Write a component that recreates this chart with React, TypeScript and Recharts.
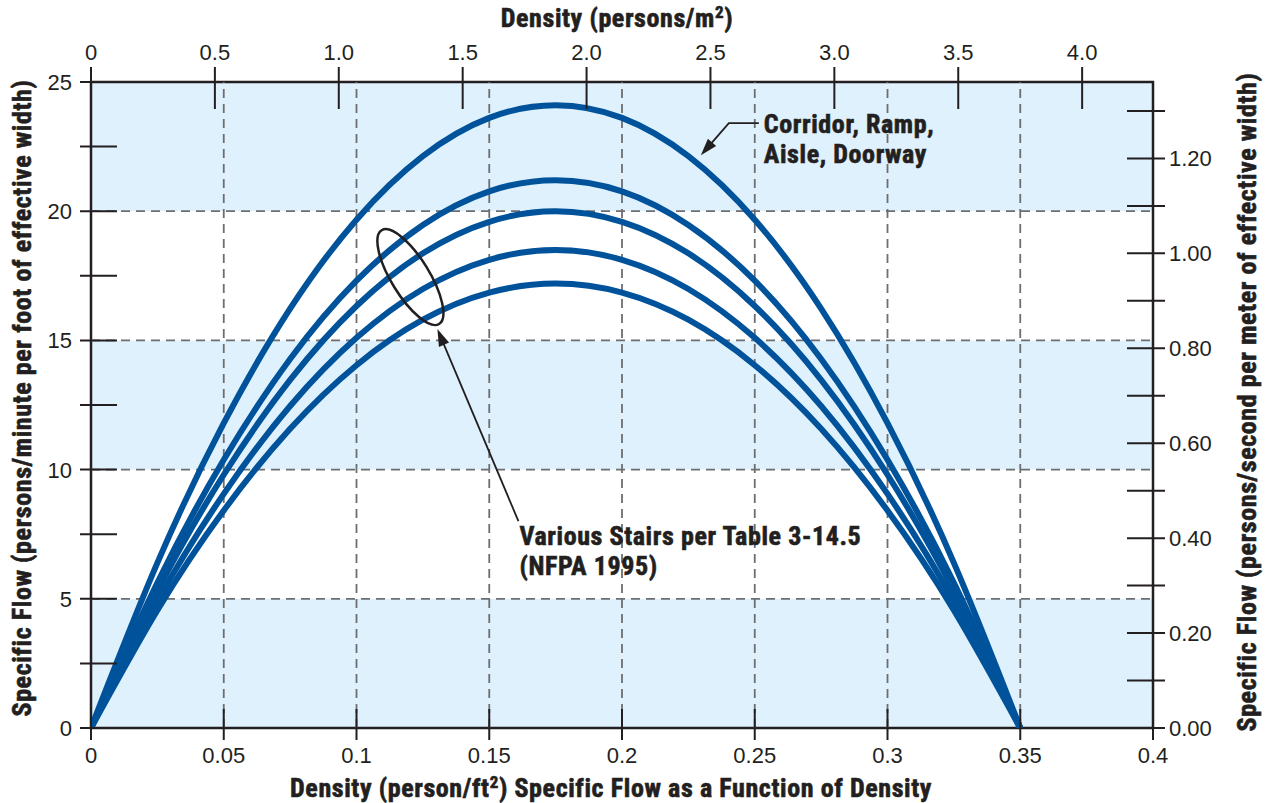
import React from 'react';
import { LineChart, Line, XAxis, YAxis, ReferenceArea, ReferenceLine, ReferenceDot } from 'recharts';

// Density in persons/ft^2
const densityFt2 = [0, 0.025, 0.05, 0.075, 0.1, 0.125, 0.15, 0.175, 0.2, 0.225, 0.25, 0.275, 0.3, 0.325, 0.35];
// Specific flow (persons/min/ft)
const corridorFlow = [0, 6.39, 11.8, 16.23, 19.67, 22.13, 23.61, 24.1, 23.61, 22.13, 19.67, 16.23, 11.8, 6.39, 0];
const stairs1Flow = [0, 5.62, 10.38, 14.28, 17.31, 19.47, 20.77, 21.2, 20.77, 19.47, 17.31, 14.28, 10.38, 5.62, 0];
const stairs2Flow = [0, 5.31, 9.8, 13.47, 16.33, 18.37, 19.59, 20.0, 19.59, 18.37, 16.33, 13.47, 9.8, 5.31, 0];
const stairs3Flow = [0, 4.91, 9.06, 12.46, 15.1, 16.99, 18.12, 18.5, 18.12, 16.99, 15.1, 12.46, 9.06, 4.91, 0];
const stairs4Flow = [0, 4.56, 8.42, 11.58, 14.04, 15.8, 16.85, 17.2, 16.85, 15.8, 14.04, 11.58, 8.42, 4.56, 0];

const bottomTicks = [0, 0.05, 0.1, 0.15, 0.2, 0.25, 0.3, 0.35, 0.4];
const bottomTickLabels = ['0', '0.05', '0.1', '0.15', '0.2', '0.25', '0.3', '0.35', '0.4'];
const topTicks = [0, 0.5, 1.0, 1.5, 2.0, 2.5, 3.0, 3.5, 4.0];
const topTickLabels = ['0', '0.5', '1.0', '1.5', '2.0', '2.5', '3.0', '3.5', '4.0'];
const leftTicks = [0, 2.5, 5, 7.5, 10, 12.5, 15, 17.5, 20, 22.5, 25];
const leftTickLabels = ['0', '', '5', '', '10', '', '15', '', '20', '', '25'];
const rightTicks = [0, 0.1, 0.2, 0.3, 0.4, 0.5, 0.6, 0.7, 0.8, 0.9, 1.0, 1.1, 1.2, 1.3];
const rightTickLabels = ['0.00', '', '0.20', '', '0.40', '', '0.60', '', '0.80', '', '1.00', '', '1.20', ''];
const gridX = [0.05, 0.1, 0.15, 0.2, 0.25, 0.3, 0.35];
const gridY = [5, 10, 15, 20];
const bands = [[0, 5], [10, 15], [20, 25]];

const data = densityFt2.map((d, i) => ({
  d,
  corridor: corridorFlow[i],
  s1: stairs1Flow[i],
  s2: stairs2Flow[i],
  s3: stairs3Flow[i],
  s4: stairs4Flow[i],
}));

const INK = '#231f20';
const BLUE = '#00539b';
const BAND = '#dff1fc';
const TICK_FONT = '"Liberation Sans", Arial, Helvetica, sans-serif';
const BOLD_FONT = '"Liberation Sans Narrow", "Roboto Condensed", "DejaVu Sans Condensed", "Liberation Sans", sans-serif';
const BOLD_SIZE = 26;
const BOLD_SPACING = 0.6;

const LeftTick = (p: any) => {
  const { x, y, index } = p;
  return (
    <g>
      <line x1={x - 11} x2={x + 26} y1={y} y2={y} stroke={INK} strokeWidth={2} />
      {leftTickLabels[index] ? (
        <text x={x - 19} y={y} dy="0.36em" textAnchor="end" fontSize={22} fontFamily={TICK_FONT} fill={INK}>
          {leftTickLabels[index]}
        </text>
      ) : null}
    </g>
  );
};

const RightTick = (p: any) => {
  const { x, y, index } = p;
  return (
    <g>
      <line x1={x - 26} x2={x + 12} y1={y} y2={y} stroke={INK} strokeWidth={2} />
      {rightTickLabels[index] ? (
        <text x={x + 16} y={y} dy="0.36em" textAnchor="start" fontSize={22} fontFamily={TICK_FONT} fill={INK}>
          {rightTickLabels[index]}
        </text>
      ) : null}
    </g>
  );
};

const BottomTick = (p: any) => {
  const { x, y, index } = p;
  return (
    <g>
      <line x1={x} x2={x} y1={y - 19} y2={y + 12} stroke={INK} strokeWidth={2} />
      <text x={x} y={y + 35} textAnchor="middle" fontSize={22} fontFamily={TICK_FONT} fill={INK}>
        {bottomTickLabels[index]}
      </text>
    </g>
  );
};

const TopTick = (p: any) => {
  const { x, y, index } = p;
  return (
    <g>
      <line x1={x} x2={x} y1={y - 15} y2={y + 27} stroke={INK} strokeWidth={2} />
      <text x={x} y={y - 22} textAnchor="middle" fontSize={22} fontFamily={TICK_FONT} fill={INK}>
        {topTickLabels[index]}
      </text>
    </g>
  );
};

const arrowHead = (tx: number, ty: number, fx: number, fy: number, len = 17, half = 5.5) => {
  const dx = tx - fx;
  const dy = ty - fy;
  const L = Math.sqrt(dx * dx + dy * dy);
  const ux = dx / L;
  const uy = dy / L;
  const bx = tx - ux * len;
  const by = ty - uy * len;
  return `${tx},${ty} ${bx - uy * half},${by + ux * half} ${bx + uy * half},${by - ux * half}`;
};

const boldText = {
  fontSize: BOLD_SIZE,
  fontWeight: 'bold' as const,
  fontFamily: BOLD_FONT,
  letterSpacing: BOLD_SPACING,
  fill: INK,
  stroke: INK,
  strokeWidth: 0.6,
};

const StairsNote = (p: any) => {
  const { cx, cy } = p;
  const tipX = cx + 27;
  const tipY = cy + 52;
  const sX = cx + 108;
  const sY = cy + 244;
  return (
    <g>
      <ellipse cx={cx} cy={cy} rx={55} ry={19} transform={`rotate(58.5 ${cx} ${cy})`} fill="none" stroke={INK} strokeWidth={2.5} />
      <line x1={sX} y1={sY} x2={tipX + (sX - tipX) * 0.06} y2={tipY + (sY - tipY) * 0.06} stroke={INK} strokeWidth={1.8} />
      <polygon points={arrowHead(tipX, tipY, sX, sY)} fill={INK} />
      <text x={cx + 109} y={cy + 268} {...boldText}>
        Various Stairs per Table 3-14.5
      </text>
      <text x={cx + 109} y={cy + 298} {...boldText}>
        (NFPA 1995)
      </text>
    </g>
  );
};

const CorridorNote = (p: any) => {
  const { cx, cy } = p;
  const tipX = cx;
  const tipY = cy;
  const kX = cx + 28;
  const kY = cy - 32;
  return (
    <g>
      <polyline points={`${cx + 58},${kY} ${kX},${kY} ${tipX + 8},${tipY - 9}`} fill="none" stroke={INK} strokeWidth={1.8} />
      <polygon points={arrowHead(tipX, tipY, kX, kY)} fill={INK} />
      <text x={cx + 63} y={cy - 22} {...boldText}>
        Corridor, Ramp,
      </text>
      <text x={cx + 63} y={cy + 8} {...boldText}>
        Aisle, Doorway
      </text>
    </g>
  );
};

export default function App() {
  return (
    <div style={{ position: 'absolute', left: 0, top: 0, width: 1265, height: 803, background: '#fff' }}>
      <LineChart width={1265} height={803} data={data} margin={{ top: 0, right: 0, bottom: 0, left: 0 }}>
        <XAxis
          xAxisId="bottom"
          dataKey="d"
          type="number"
          domain={[0, 0.4]}
          ticks={bottomTicks}
          interval={0}
          height={75}
          tickSize={0}
          tickMargin={0}
          tickLine={false}
          axisLine={false}
          tick={<BottomTick />}
          allowDataOverflow
        />
        <XAxis
          xAxisId="top"
          dataKey="d"
          orientation="top"
          type="number"
          domain={[0, 4.286]}
          ticks={topTicks}
          interval={0}
          height={82}
          tickSize={0}
          tickMargin={0}
          tickLine={false}
          axisLine={false}
          tick={<TopTick />}
          allowDataOverflow
        />
        <YAxis
          yAxisId="left"
          type="number"
          domain={[0, 25]}
          ticks={leftTicks}
          interval={0}
          width={91}
          tickSize={0}
          tickMargin={0}
          tickLine={false}
          axisLine={false}
          tick={<LeftTick />}
          allowDataOverflow
        />
        <YAxis
          yAxisId="right"
          orientation="right"
          type="number"
          domain={[0, 1.361]}
          ticks={rightTicks}
          interval={0}
          width={112}
          tickSize={0}
          tickMargin={0}
          tickLine={false}
          axisLine={false}
          tick={<RightTick />}
          allowDataOverflow
        />
        {bands.map(([a, b]) => (
          <ReferenceArea
            key={`band-${a}`}
            xAxisId="bottom"
            yAxisId="left"
            x1={0}
            x2={0.4}
            y1={a}
            y2={b}
            fill={BAND}
            fillOpacity={1}
            stroke="none"
          />
        ))}
        {gridX.map((v) => (
          <ReferenceLine key={`gx-${v}`} xAxisId="bottom" yAxisId="left" x={v} stroke="#6d6e71" strokeWidth={1.8} strokeDasharray="9 6" />
        ))}
        {gridY.map((v) => (
          <ReferenceLine key={`gy-${v}`} xAxisId="bottom" yAxisId="left" y={v} stroke="#6d6e71" strokeWidth={1.8} strokeDasharray="9 6" />
        ))}
        {['corridor', 's1', 's2', 's3', 's4'].map((k) => (
          <Line
            key={k}
            xAxisId="bottom"
            yAxisId="left"
            dataKey={k}
            type="natural"
            stroke={BLUE}
            strokeWidth={6}
            dot={false}
            activeDot={false}
            isAnimationActive={false}
          />
        ))}
        <ReferenceArea
          xAxisId="bottom"
          yAxisId="left"
          x1={0}
          x2={0.4}
          y1={0}
          y2={25}
          fill="none"
          stroke={INK}
          strokeWidth={2.5}
        />
        <ReferenceDot xAxisId="bottom" yAxisId="left" x={0.1203} y={17.45} r={1} shape={<StairsNote />} />
        <ReferenceDot xAxisId="bottom" yAxisId="left" x={0.2297} y={22.17} r={1} shape={<CorridorNote />} />
        <text x={617} y={27} textAnchor="middle" {...boldText}>
          Density (persons/m<tspan dy={-9} fontSize={17}>2</tspan><tspan dy={9}>)</tspan>
        </text>
        <text x={611} y={797} textAnchor="middle" {...boldText}>
          Density (person/ft<tspan dy={-9} fontSize={17}>2</tspan><tspan dy={9}>) Specific Flow as a Function of Density</tspan>
        </text>
        <text x={31} y={398} transform="rotate(-90 31 398)" textAnchor="middle" {...boldText}>
          Specific Flow (persons/minute per foot of effective width)
        </text>
        <text x={1256} y={402} transform="rotate(-90 1256 402)" textAnchor="middle" {...boldText}>
          Specific Flow (persons/second per meter of effective width)
        </text>
      </LineChart>
    </div>
  );
}
